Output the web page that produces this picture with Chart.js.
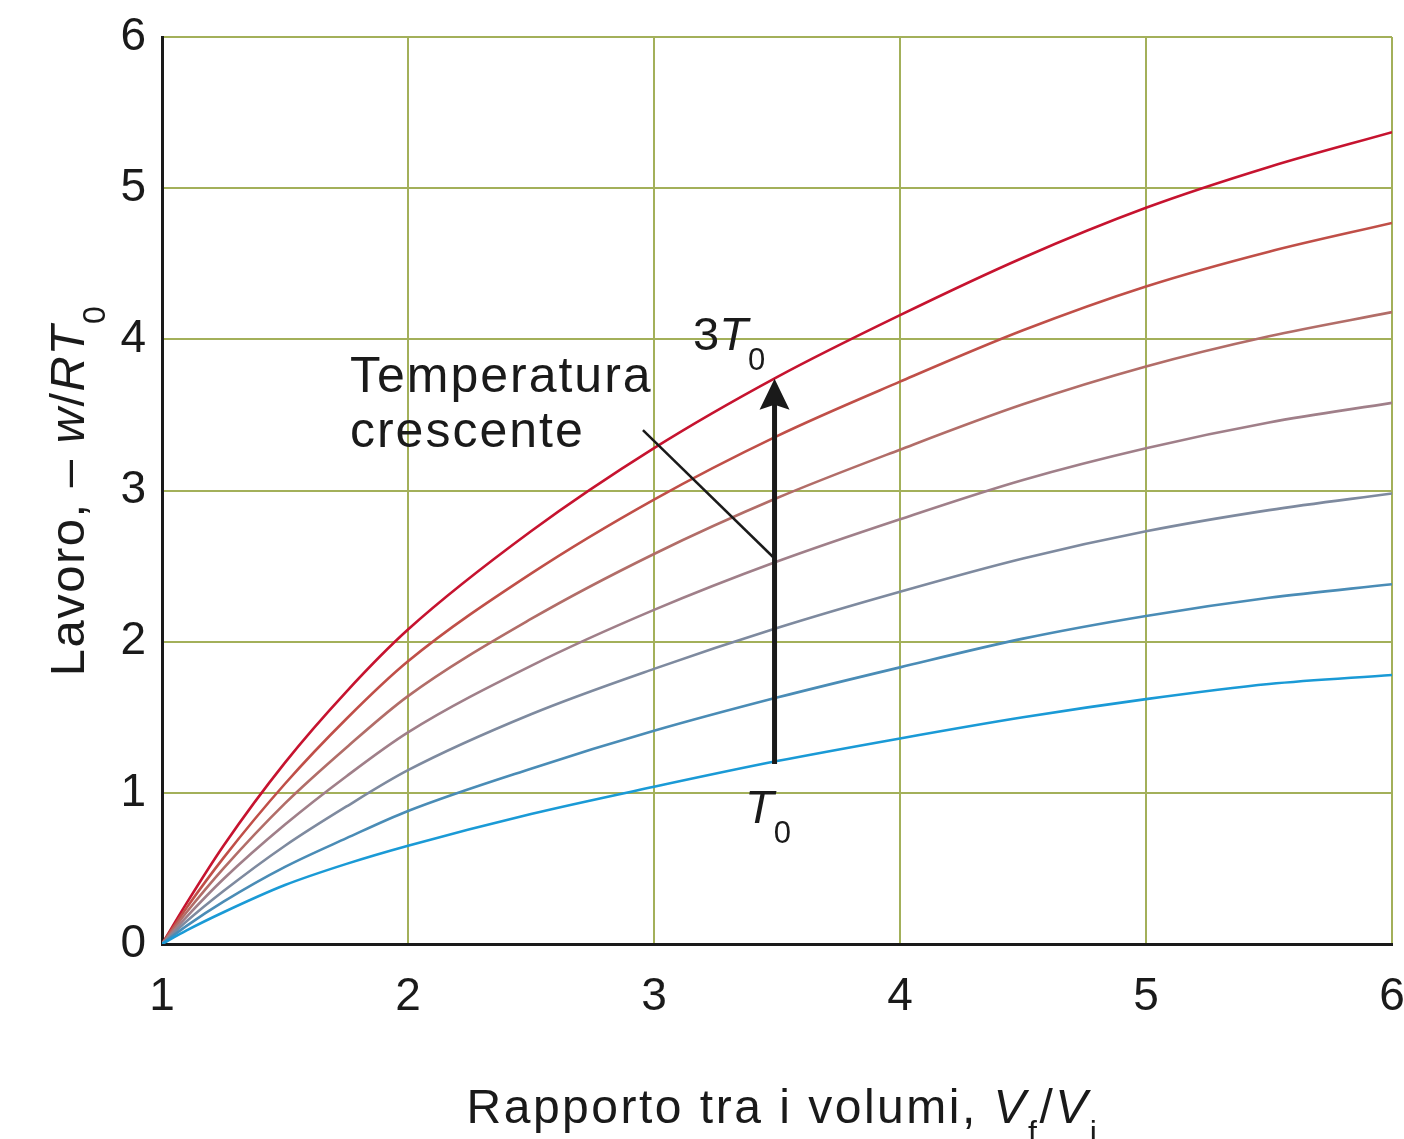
<!DOCTYPE html>
<html>
<head>
<meta charset="utf-8">
<script src="https://cdn.jsdelivr.net/npm/chart.js@4.4.0/dist/chart.umd.min.js"></script>
<style>
  html, body { margin: 0; padding: 0; background: #fff; }
  #wrap { width: 1404px; height: 1139px; }
</style>
</head>
<body>
<div id="wrap"><canvas id="myChart" width="1404" height="1139"></canvas></div>
<script>
// volume ratio Vf/Vi (x) and work -w/RT0, one array per temperature
const ratios = [1, 1.1, 1.25, 1.5, 1.75, 2, 2.5, 3, 3.5, 4, 4.5, 5, 5.5, 6];
const workT1 = [0, 0.09, 0.21, 0.39, 0.53, 0.65, 0.86, 1.04, 1.21, 1.36, 1.50, 1.62, 1.72, 1.78];
const workT2 = [0, 0.12, 0.28, 0.51, 0.70, 0.88, 1.16, 1.41, 1.63, 1.83, 2.02, 2.17, 2.29, 2.38];
const workT3 = [0, 0.15, 0.35, 0.65, 0.91, 1.15, 1.52, 1.82, 2.09, 2.33, 2.55, 2.73, 2.87, 2.98];
const workT4 = [0, 0.18, 0.43, 0.79, 1.11, 1.40, 1.84, 2.21, 2.53, 2.81, 3.07, 3.28, 3.45, 3.58];
const workT5 = [0, 0.21, 0.50, 0.93, 1.30, 1.64, 2.15, 2.58, 2.95, 3.27, 3.57, 3.82, 4.02, 4.18];
const workT6 = [0, 0.24, 0.57, 1.06, 1.49, 1.87, 2.45, 2.94, 3.36, 3.72, 4.06, 4.35, 4.58, 4.77];
const workT7 = [0, 0.27, 0.65, 1.20, 1.67, 2.08, 2.73, 3.28, 3.75, 4.16, 4.54, 4.87, 5.14, 5.37];
const series = [workT1, workT2, workT3, workT4, workT5, workT6, workT7];
const curveColors = ['#1a9ad6', '#4a8cb6', '#7e8a9f', '#a07f89', '#b26d68', '#c04f48', '#c6132f'];

const xTicks = [1, 2, 3, 4, 5, 6];
const yTicks = [0, 1, 2, 3, 4, 5, 6];

// annotation anchors in data units
const arrowFrom = [3.49, 1.19];
const arrowTo = [3.49, 3.74];
const leaderFrom = [2.955, 3.40];
const leaderTo = [3.484, 2.56];

const FONT = '"Liberation Sans", Arial, sans-serif';
const gridColor = '#a3b05a';

function drawRich(c, parts, x, y, size) {
  let cx = x;
  parts.forEach(p => {
    const fs = p.sub ? Math.round(size * 0.66) : size;
    c.font = (p.it ? 'italic ' : '') + fs + 'px ' + FONT;
    c.fillText(p.t, cx, y + (p.sub ? size * 0.42 : 0));
    cx += c.measureText(p.t).width;
  });
  return cx - x;
}
function richWidth(c, parts, size) {
  let w = 0;
  parts.forEach(p => {
    const fs = p.sub ? Math.round(size * 0.66) : size;
    c.font = (p.it ? 'italic ' : '') + fs + 'px ' + FONT;
    w += c.measureText(p.t).width;
  });
  return w;
}

const annotations = {
  id: 'annotations',
  afterDatasetsDraw(chart) {
    const c = chart.ctx;
    const xs = chart.scales.x, ys = chart.scales.y;
    const px = v => xs.getPixelForValue(v), py = v => ys.getPixelForValue(v);
    c.save();
    c.fillStyle = '#1a1a1a';
    c.strokeStyle = '#1a1a1a';

    // leader line
    c.lineWidth = 2.5;
    c.beginPath();
    c.moveTo(px(leaderFrom[0]), py(leaderFrom[1]));
    c.lineTo(px(leaderTo[0]), py(leaderTo[1]));
    c.stroke();

    // arrow
    const ax = px(arrowFrom[0]), ay0 = py(arrowFrom[1]), ay1 = py(arrowTo[1]);
    c.lineWidth = 5;
    c.beginPath();
    c.moveTo(ax, ay0);
    c.lineTo(ax, ay1 + 20);
    c.stroke();
    c.beginPath();
    c.moveTo(ax, ay1);
    c.lineTo(ax - 15, ay1 + 31);
    c.lineTo(ax, ay1 + 26);
    c.lineTo(ax + 15, ay1 + 31);
    c.closePath();
    c.fill();

    c.textBaseline = 'alphabetic';
    c.textAlign = 'left';
    c.letterSpacing = '2px';
    drawRich(c, [{t: 'Temperatura'}], px(1.764), py(3.65), 50);
    drawRich(c, [{t: 'crescente'}], px(1.764), py(3.285), 50);
    c.letterSpacing = '0px';
    drawRich(c, [{t: '3'}, {t: 'T', it: true}, {t: '0', sub: true}], px(3.159), py(3.93), 47);
    drawRich(c, [{t: 'T', it: true}, {t: '0', sub: true}], px(3.37), py(0.80), 47);
    c.restore();
  },
  afterDraw(chart) {
    const c = chart.ctx;
    const a = chart.chartArea;
    c.save();
    c.fillStyle = '#1a1a1a';
    c.textBaseline = 'alphabetic';
    c.textAlign = 'left';
    c.letterSpacing = '2.5px';
    // x title
    const xParts = [{t: 'Rapporto tra i volumi, '}, {t: 'V', it: true}, {t: 'f', sub: true}, {t: '/'}, {t: 'V', it: true}, {t: 'i', sub: true}];
    const xw = richWidth(c, xParts, 48);
    drawRich(c, xParts, (a.left + a.right) / 2 + 6 - xw / 2, 1123, 48);
    // y title
    c.letterSpacing = '1.5px';
    const yParts = [{t: 'Lavoro, \u2013 '}, {t: 'w', it: true}, {t: '/'}, {t: 'RT', it: true}, {t: '0', sub: true}];
    const yw = richWidth(c, yParts, 49);
    c.translate(84, (a.top + a.bottom) / 2);
    c.rotate(-Math.PI / 2);
    drawRich(c, yParts, -yw / 2, 0, 49);
    c.restore();
  }
};

const ctx = document.getElementById('myChart');

new Chart(ctx, {
  type: 'line',
  data: {
    datasets: series.map((s, i) => ({
      data: ratios.map((r, j) => ({x: r, y: s[j]})),
      borderColor: curveColors[i],
      borderWidth: 2.6,
      pointRadius: 0,
      fill: false,
      cubicInterpolationMode: 'monotone'
    }))
  },
  options: {
    responsive: false,
    animation: false,
    devicePixelRatio: 1,
    layout: { padding: { top: 37, right: 12, left: 0, bottom: 0 } },
    plugins: { legend: { display: false }, tooltip: { enabled: false } },
    scales: {
      x: {
        type: 'linear',
        min: 1,
        max: 6,
        afterBuildTicks: s => { s.ticks = xTicks.map(v => ({value: v})); },
        afterFit: s => { s.height = 195; s.paddingLeft = 0; s.paddingRight = 0; },
        ticks: { font: { family: FONT, size: 46 }, color: '#1a1a1a', padding: 26, maxRotation: 0 },
        grid: { color: gridColor, lineWidth: 2, drawTicks: false },
        border: { color: '#1a1a1a', width: 3 }
      },
      y: {
        type: 'linear',
        min: 0,
        max: 6,
        afterBuildTicks: s => { s.ticks = yTicks.map(v => ({value: v})); },
        afterFit: s => { s.width = 162; s.paddingTop = 0; s.paddingBottom = 0; },
        ticks: { font: { family: FONT, size: 46 }, color: '#1a1a1a', padding: 16 },
        grid: { color: gridColor, lineWidth: 2, drawTicks: false },
        border: { color: '#1a1a1a', width: 3 }
      }
    }
  },
  plugins: [annotations]
});
</script>
</body>
</html>
